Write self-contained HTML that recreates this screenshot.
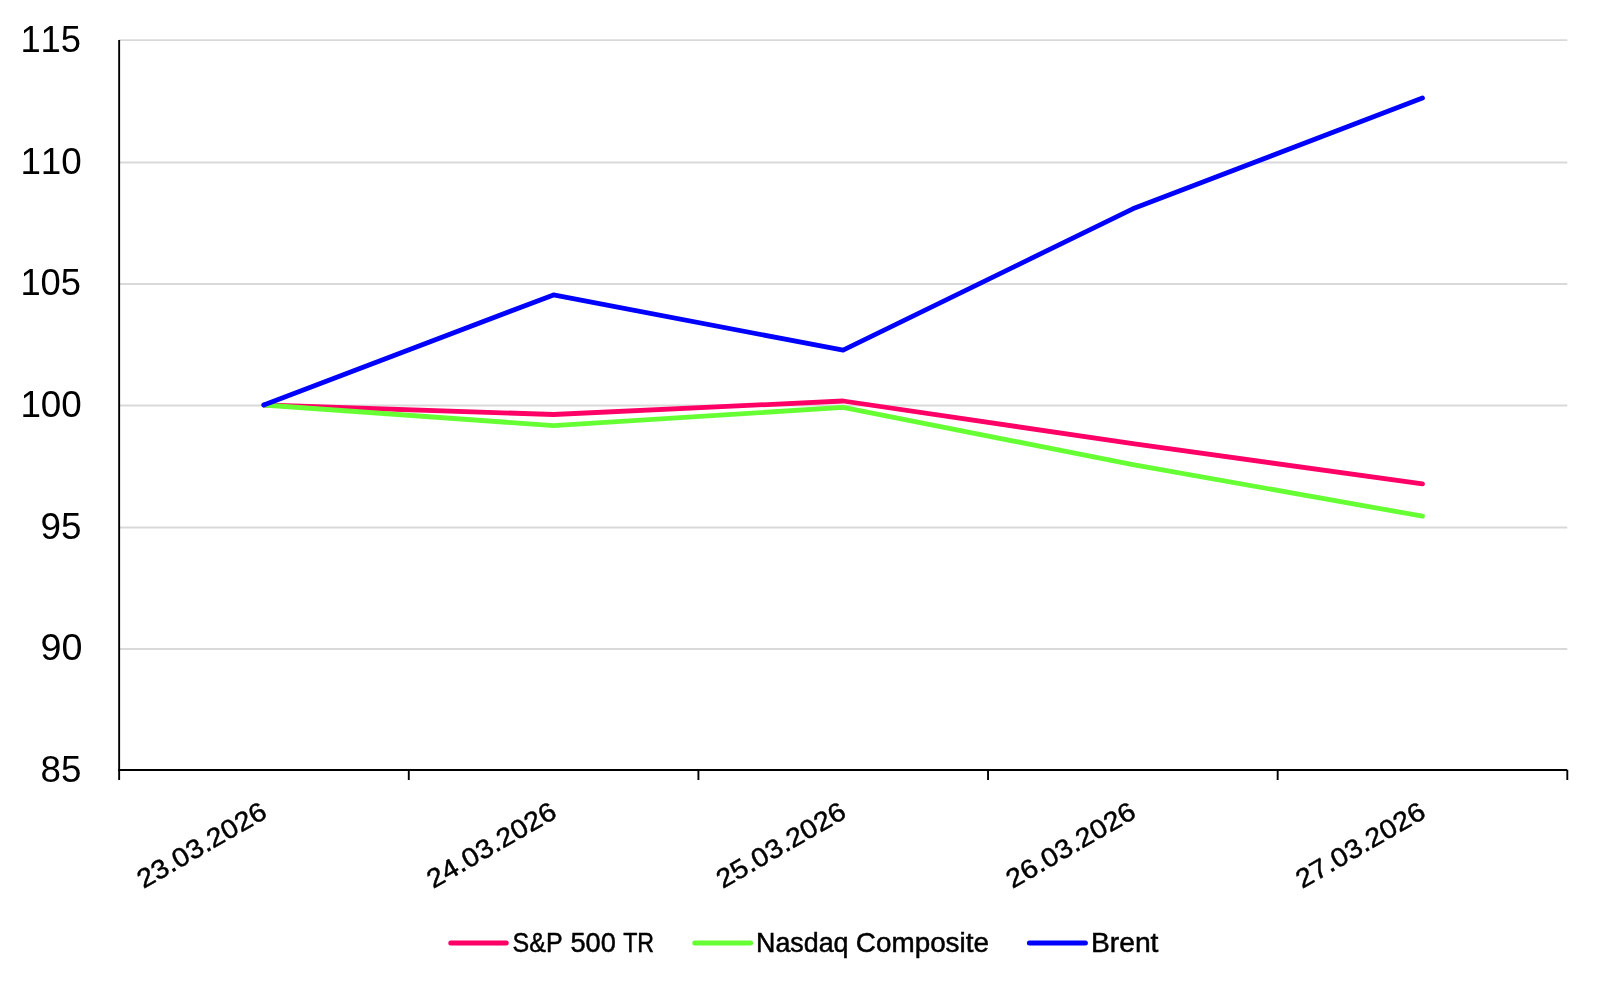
<!DOCTYPE html>
<html><head><meta charset="utf-8"><title>Chart</title>
<style>
html,body{margin:0;padding:0;background:#fff;}
body{width:1600px;height:988px;overflow:hidden;}
svg{display:block;will-change:transform;}
text{font-family:"Liberation Sans",sans-serif;fill:#000;font-kerning:none;}
</style></head><body>
<svg width="1600" height="988" viewBox="0 0 1600 988">
<rect width="1600" height="988" fill="#fff"/>
<line x1="119.15" y1="40.10" x2="1567.3" y2="40.10" stroke="#d9d9d9" stroke-width="1.8"/>
<line x1="119.15" y1="162.50" x2="1567.3" y2="162.50" stroke="#d9d9d9" stroke-width="1.8"/>
<line x1="119.15" y1="284.00" x2="1567.3" y2="284.00" stroke="#d9d9d9" stroke-width="1.8"/>
<line x1="119.15" y1="405.50" x2="1567.3" y2="405.50" stroke="#d9d9d9" stroke-width="1.8"/>
<line x1="119.15" y1="527.50" x2="1567.3" y2="527.50" stroke="#d9d9d9" stroke-width="1.8"/>
<line x1="119.15" y1="649.00" x2="1567.3" y2="649.00" stroke="#d9d9d9" stroke-width="1.8"/>
<line x1="119.15" y1="40" x2="119.15" y2="780" stroke="#000" stroke-width="1.9"/>
<line x1="118.2" y1="770" x2="1567.3" y2="770" stroke="#000" stroke-width="1.9"/>
<line x1="408.78" y1="770" x2="408.78" y2="780" stroke="#000" stroke-width="1.9"/>
<line x1="698.41" y1="770" x2="698.41" y2="780" stroke="#000" stroke-width="1.9"/>
<line x1="988.04" y1="770" x2="988.04" y2="780" stroke="#000" stroke-width="1.9"/>
<line x1="1277.67" y1="770" x2="1277.67" y2="780" stroke="#000" stroke-width="1.9"/>
<line x1="1567.30" y1="770" x2="1567.30" y2="780" stroke="#000" stroke-width="1.9"/>
<polyline points="263.8,405.0 553.5,414.5 843.1,401.0 1132.8,443.7 1422.5,483.9" fill="none" stroke="#ff0066" stroke-width="4.8" stroke-linejoin="round" stroke-linecap="round"/>
<polyline points="263.8,405.0 553.5,425.6 843.1,407.4 1132.8,464.6 1422.5,516.2" fill="none" stroke="#66ff33" stroke-width="4.8" stroke-linejoin="round" stroke-linecap="round"/>
<polyline points="263.8,405.0 553.5,294.9 843.1,350.2 1132.8,208.8 1422.5,98.0" fill="none" stroke="#0000ff" stroke-width="4.8" stroke-linejoin="round" stroke-linecap="round"/>
<text transform="translate(20.43,51.75) scale(0.9736,1)" font-size="37.3">115</text>
<text transform="translate(20.39,173.77) scale(0.9873,1)" font-size="37.3">110</text>
<text transform="translate(20.43,295.19) scale(0.9736,1)" font-size="37.3">105</text>
<text transform="translate(20.39,416.94) scale(0.9873,1)" font-size="37.3">100</text>
<text transform="translate(40.47,538.54) scale(0.9876,1)" font-size="37.3">95</text>
<text transform="translate(40.43,660.19) scale(1.0109,1)" font-size="37.3">90</text>
<text transform="translate(40.60,781.94) scale(0.9843,1)" font-size="37.3">85</text>
<text transform="translate(268.70,816.70) rotate(-30) scale(1.090,1)" font-size="26.5" text-anchor="end" stroke="#000" stroke-width="0.45">23.03.2026</text>
<text transform="translate(558.40,816.70) rotate(-30) scale(1.090,1)" font-size="26.5" text-anchor="end" stroke="#000" stroke-width="0.45">24.03.2026</text>
<text transform="translate(848.00,816.70) rotate(-30) scale(1.090,1)" font-size="26.5" text-anchor="end" stroke="#000" stroke-width="0.45">25.03.2026</text>
<text transform="translate(1137.70,816.70) rotate(-30) scale(1.090,1)" font-size="26.5" text-anchor="end" stroke="#000" stroke-width="0.45">26.03.2026</text>
<text transform="translate(1427.40,816.70) rotate(-30) scale(1.090,1)" font-size="26.5" text-anchor="end" stroke="#000" stroke-width="0.45">27.03.2026</text>
<line x1="450.8" y1="943.1" x2="506.2" y2="943.1" stroke="#ff0066" stroke-width="5" stroke-linecap="round"/>
<line x1="694.8" y1="943.1" x2="750.6" y2="943.1" stroke="#66ff33" stroke-width="5" stroke-linecap="round"/>
<line x1="1029.4" y1="943.1" x2="1085.4" y2="943.1" stroke="#0000ff" stroke-width="5" stroke-linecap="round"/>
<g font-size="27.5" stroke="#000" stroke-width="0.5">
<text x="512.61" y="951.70" textLength="50.06" lengthAdjust="spacingAndGlyphs">S&amp;P</text>
<text x="570.46" y="951.70" textLength="45.35" lengthAdjust="spacingAndGlyphs">500</text>
<text x="623.13" y="951.70" textLength="30.90" lengthAdjust="spacingAndGlyphs">TR</text>
<text x="756.05" y="951.70" textLength="92.41" lengthAdjust="spacingAndGlyphs">Nasdaq</text>
<text x="855.84" y="951.70" textLength="133.15" lengthAdjust="spacingAndGlyphs">Composite</text>
<text x="1090.93" y="951.70" textLength="67.52" lengthAdjust="spacingAndGlyphs">Brent</text>
</g>
</svg>
</body></html>
